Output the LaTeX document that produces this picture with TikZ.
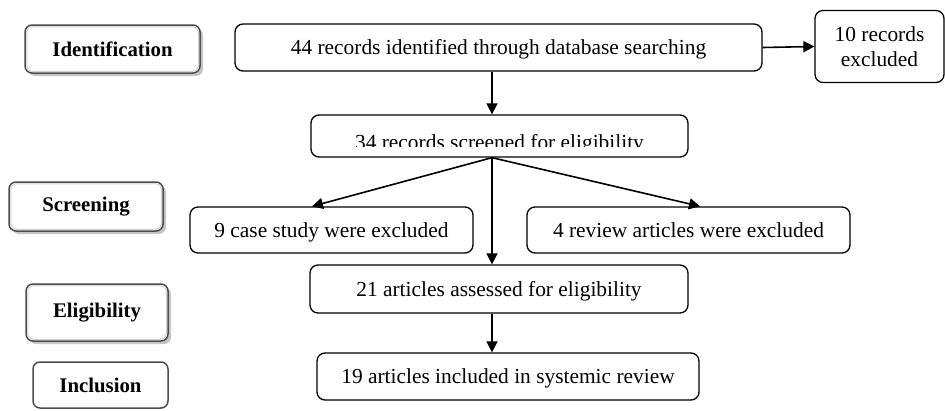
\documentclass[tikz,border=0pt]{standalone}
\usepackage{fontspec}
\setmainfont{Liberation Serif}
\usetikzlibrary{arrows.meta,shadows}
\begin{document}
\begin{tikzpicture}[x=1pt,y=-1pt,
  flowbox/.style={draw=black, line width=1.3pt, rounded corners=8pt, fill=white,
    inner sep=0pt, align=center, font=\fontsize{21.4}{25}\selectfont},
  oneline/.style={text height=19.5pt, text depth=5pt},
  stagebox/.style={draw=gray!60!black, line width=1.5pt, rounded corners=7pt, fill=white,
    inner sep=0pt, font=\fontsize{20.8}{24}\selectfont\bfseries},
  shadowed/.style={drop shadow={shadow xshift=3pt, shadow yshift=-3pt, fill=gray!45, opacity=1}},
  innerline/.style={draw=gray!35, line width=1pt, rounded corners=5pt},
  flowarrow/.style={line width=1.6pt, -{Triangle[length=11pt,width=11pt]}}]
\useasboundingbox (0,0) rectangle (945,410);

% stage labels on the left
\node[stagebox, shadowed, minimum width=175pt, minimum height=48pt] (ident) at (112.5,49) {Identification};
\node[stagebox, shadowed, minimum width=154pt, minimum height=49pt] (screen) at (86,206.5) {Screening};
\node[stagebox, shadowed, minimum width=142pt, minimum height=57pt] (elig) at (97,312.5) {Eligibility};
\node[stagebox, minimum width=135pt, minimum height=46pt] (incl) at (100.5,385) {Inclusion};
\foreach \n in {ident,screen,elig}
  \draw[innerline] ([xshift=2.5pt,yshift=-2.5pt]\n.north west) rectangle ([xshift=-2.5pt,yshift=2.5pt]\n.south east);

% flow boxes
\node[flowbox, oneline, minimum width=527pt, minimum height=47pt] (found) at (498.5,47.5) {44 records identified through database searching};
\node[flowbox, minimum width=129pt, minimum height=72pt] (drop10) at (879.5,46.5) {10 records\\excluded};
\node[flowbox, minimum width=377pt, minimum height=42pt] (screened) at (499.5,136) {};
\begin{scope}
  \clip (312,116) rectangle (687,146);
  \node[font=\fontsize{21.4}{25}\selectfont, anchor=base, inner sep=0pt] (screentext) at (499.5,149) {34 records screened for eligibility};
\end{scope}
\node[flowbox, oneline, minimum width=283pt, minimum height=46pt] (cases) at (331.5,230) {9 case study were excluded};
\node[flowbox, oneline, minimum width=323pt, minimum height=46pt] (reviews) at (688.5,230) {4 review articles were excluded};
\node[flowbox, oneline, minimum width=378pt, minimum height=48pt] (assessed) at (499,289) {21 articles assessed for eligibility};
\node[flowbox, oneline, minimum width=382pt, minimum height=47pt] (included) at (508,376.5) {19 articles included in systemic review};

% connectors
\coordinate (spine) at (492,0);
\coordinate (leftend) at (312,0);
\coordinate (rightend) at (700,0);
\draw[flowarrow] (found.east) -- (drop10.west);
\draw[flowarrow] (found.south -| spine) -- (screened.north -| spine);
\draw[flowarrow] (screened.south -| spine) -- (cases.north -| leftend);
\draw[flowarrow] (screened.south -| spine) -- (reviews.north -| rightend);
\draw[flowarrow] (screened.south -| spine) -- (assessed.north -| spine);
\draw[flowarrow] (assessed.south -| spine) -- (included.north -| spine);
\end{tikzpicture}
\end{document}
